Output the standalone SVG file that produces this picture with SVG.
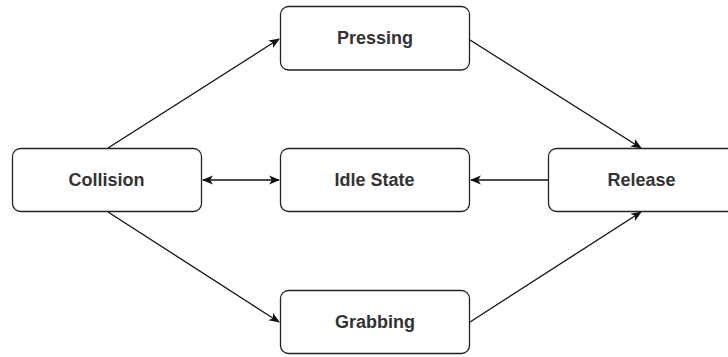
<svg xmlns="http://www.w3.org/2000/svg" width="728" height="357" viewBox="0 0 728 357">
<style>
.box{fill:#fff;stroke:#222;stroke-width:1.3}
.lbl{font-family:"Liberation Sans",Arial,sans-serif;font-size:18px;font-weight:bold;fill:#333;text-anchor:middle}
.edge{fill:none;stroke:#111;stroke-width:1.3}
</style>
<defs>
<marker id="ah" viewBox="0 0 10 10" refX="9" refY="5" markerWidth="11" markerHeight="11" markerUnits="userSpaceOnUse" orient="auto-start-reverse">
<path d="M0,1 L10,5 L0,9 L2.5,5 Z" fill="#111"/>
</marker>
</defs>
<rect width="728" height="357" fill="#fff"/>
<g id="connectors">
<line class="edge" x1="108" y1="148" x2="279" y2="39" marker-end="url(#ah)"/>
<line class="edge" x1="108" y1="212" x2="279" y2="322" marker-end="url(#ah)"/>
<line class="edge" x1="203" y1="180" x2="279" y2="180" marker-start="url(#ah)" marker-end="url(#ah)"/>
<line class="edge" x1="548" y1="180" x2="471" y2="180" marker-end="url(#ah)"/>
<line class="edge" x1="470" y1="40" x2="641" y2="148" marker-end="url(#ah)"/>
<line class="edge" x1="470" y1="322" x2="641" y2="212" marker-end="url(#ah)"/>
</g>
<g id="collision">
<rect class="box" x="12.5" y="148.5" width="189" height="63" rx="8"/>
<text class="lbl" x="106.5" y="185.7">Collision</text>
</g>
<g id="pressing">
<rect class="box" x="280.5" y="6.5" width="189" height="63.5" rx="8"/>
<text class="lbl" x="375" y="44">Pressing</text>
</g>
<g id="idle">
<rect class="box" x="280.5" y="148.5" width="189" height="63" rx="8"/>
<text class="lbl" x="374.5" y="185.7">Idle State</text>
</g>
<g id="release">
<rect class="box" x="548.5" y="148.5" width="189" height="63" rx="8"/>
<text class="lbl" x="641.5" y="185.7">Release</text>
</g>
<g id="grabbing">
<rect class="box" x="280.5" y="290.5" width="189" height="63" rx="8"/>
<text class="lbl" x="375" y="327.7">Grabbing</text>
</g>
</svg>
